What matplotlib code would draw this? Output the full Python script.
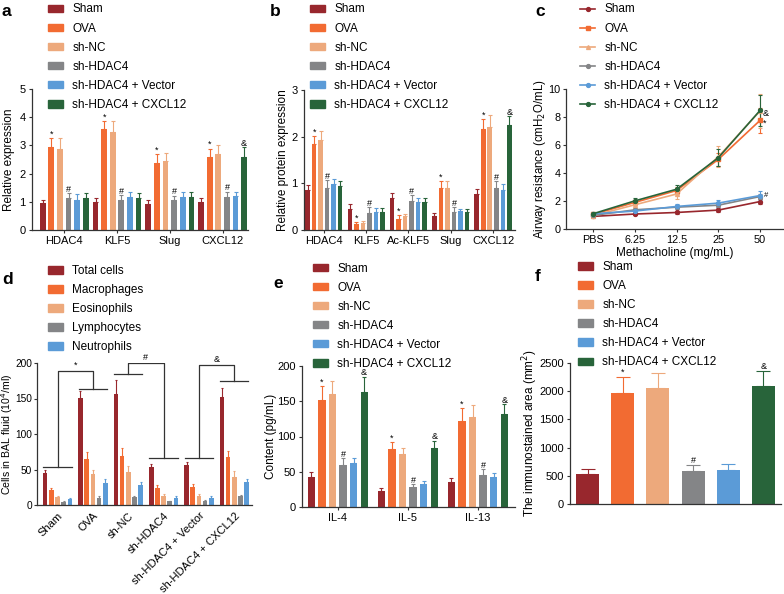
import numpy as np
import matplotlib
matplotlib.use("Agg")
import matplotlib.pyplot as plt
from matplotlib.patches import Patch
from matplotlib.lines import Line2D

plt.rcParams['font.family'] = ['Liberation Sans', 'DejaVu Sans']
plt.rcParams['axes.linewidth'] = 0.9
plt.rcParams['axes.edgecolor'] = '#333333'
plt.rcParams['xtick.color'] = '#333333'
plt.rcParams['ytick.color'] = '#333333'
plt.rcParams['xtick.labelcolor'] = 'black'
plt.rcParams['ytick.labelcolor'] = 'black'

W, H = 784, 594

# ---- data ----
groups = ["Sham", "OVA", "sh-NC", "sh-HDAC4", "sh-HDAC4 + Vector", "sh-HDAC4 + CXCL12"]
colors = ["#98272d", "#f26b32", "#eda97c", "#848587", "#5b9bd7", "#28643a"]

# panel a: rows = groups, cols = genes
a_genes = ["HDAC4", "KLF5", "Slug", "CXCL12"]
a_mean = [[0.94, 0.99, 0.93, 0.98],
          [2.94, 3.59, 2.39, 2.58],
          [2.89, 3.49, 2.46, 2.69],
          [1.12, 1.08, 1.06, 1.18],
          [1.08, 1.17, 1.17, 1.19],
          [1.12, 1.13, 1.16, 2.59]]
a_err = [[0.14, 0.13, 0.13, 0.14],
         [0.31, 0.27, 0.30, 0.31],
         [0.36, 0.38, 0.27, 0.32],
         [0.18, 0.16, 0.16, 0.18],
         [0.19, 0.18, 0.18, 0.16],
         [0.18, 0.17, 0.19, 0.34]]
a_marks = [[], ["*", "*", "*", "*"], [], ["#", "#", "#", "#"], [], ["", "", "", "&"]]

# panel b
b_proteins = ["HDAC4", "KLF5", "Ac-KLF5", "Slug", "CXCL12"]
b_mean = [[0.86, 0.46, 0.69, 0.31, 0.77],
          [1.84, 0.13, 0.24, 0.91, 2.16],
          [1.92, 0.15, 0.29, 0.91, 2.21],
          [0.91, 0.36, 0.63, 0.39, 0.89],
          [0.98, 0.39, 0.59, 0.41, 0.86],
          [0.94, 0.39, 0.60, 0.38, 2.25]]
b_err = [[0.10, 0.10, 0.10, 0.05, 0.10],
         [0.18, 0.04, 0.08, 0.13, 0.21],
         [0.20, 0.04, 0.05, 0.13, 0.26],
         [0.16, 0.13, 0.11, 0.10, 0.15],
         [0.11, 0.09, 0.10, 0.05, 0.12],
         [0.12, 0.09, 0.09, 0.06, 0.19]]
b_marks = [[], ["*"] * 5, [], ["#"] * 5, [], ["", "", "", "", "&"]]

# panel c
c_doses = ["PBS", "6.25", "12.5", "25", "50"]
c_mean = [[0.90, 1.07, 1.18, 1.35, 1.96],
          [1.04, 1.90, 2.75, 4.97, 7.76],
          [0.95, 1.73, 2.50, 5.16, 8.43],
          [0.97, 1.37, 1.56, 1.70, 2.32],
          [1.09, 1.28, 1.61, 1.85, 2.39],
          [1.09, 2.01, 2.84, 5.09, 8.47]]
c_err = [[0.10, 0.10, 0.12, 0.15, 0.20],
         [0.10, 0.20, 0.25, 0.45, 0.90],
         [0.12, 0.25, 0.35, 0.75, 1.20],
         [0.10, 0.12, 0.15, 0.15, 0.20],
         [0.10, 0.12, 0.15, 0.25, 0.30],
         [0.12, 0.20, 0.30, 0.60, 1.10]]
c_markers = ["o", "s", "^", "o", "o", "o"]

# panel d: rows = cell types, cols = groups
d_cells = ["Total cells", "Macrophages", "Eosinophils", "Lymphocytes", "Neutrophils"]
d_mean = [[45, 151, 156, 53, 57, 152],
          [21, 65, 69, 24, 26, 67],
          [11, 43, 46, 13, 13, 40],
          [4, 10, 11, 5, 6, 12],
          [8, 31, 28, 10, 10, 32]]
d_err = [[4, 10, 20, 5, 3, 13],
         [3, 10, 11, 4, 3, 9],
         [2, 7, 9, 2, 2, 8],
         [1, 2, 2, 1, 1, 2],
         [2, 5, 4, 2, 2, 5]]
# significance brackets: (left group, right group, left level, right level, top level, mark)
d_brackets = [(0, 1, 53, 163, 189, "*"),
              (2, 3, 185, 66, 200, "#"),
              (4, 5, 66, 175, 197, "&")]

# panel e
e_cytokines = ["IL-4", "IL-5", "IL-13"]
e_mean = [[42, 23, 36],
          [152, 82, 122],
          [160, 75, 128],
          [60, 29, 46],
          [62, 33, 42],
          [163, 84, 132]]
e_err = [[7, 4, 5],
         [20, 10, 19],
         [19, 9, 17],
         [9, 3, 8],
         [8, 4, 6],
         [22, 10, 14]]
e_marks = [[], ["*"] * 3, [], ["#"] * 3, [], ["&"] * 3]

# panel f
f_mean = [527, 1973, 2050, 586, 604, 2097]
f_err = [90, 278, 272, 101, 101, 267]
f_marks = ["", "*", "", "#", "", "&"]

LBL = 8.5
TCK = 8
LEG = 8.5

fig = plt.figure(figsize=(W / 100, H / 100), dpi=100)


def add_ax(l, r, t, b, tck=TCK):
    ax = fig.add_axes([l / W, 1 - b / H, (r - l) / W, (b - t) / H])
    for s in ("top", "right"):
        ax.spines[s].set_visible(False)
    ax.tick_params(labelsize=tck, length=2.5, width=0.8, pad=2)
    return ax


def ylab(ax, text, xpix, left, right, size=LBL):
    ax.set_ylabel(text, fontsize=size)
    ax.yaxis.set_label_coords((xpix - left) / (right - left), 0.5)


def legend(handles, labels, x, y, handlelength=1.3):
    fig.legend(handles, labels, loc="upper left",
               bbox_to_anchor=(x / W, 1 - y / H), bbox_transform=fig.transFigure,
               frameon=False, fontsize=LEG, borderpad=0, borderaxespad=0,
               labelspacing=0.6, handlelength=handlelength, handleheight=0.6,
               handletextpad=0.75)


def up_err(ax, x, y, e, c, cap=1.4):
    ax.errorbar(x, y, yerr=[np.zeros(len(e)), e], fmt="none", ecolor=c,
                elinewidth=0.8, capsize=cap, capthick=0.8)


def grouped(ax, mean, err, marks, step, width, cap=1.4):
    n = len(mean)
    cats = np.arange(len(mean[0]))
    for k in range(n):
        x = cats + (k - (n - 1) / 2) * step
        ax.bar(x, mean[k], width, color=colors[k], zorder=2)
        up_err(ax, x, mean[k], err[k], colors[k], cap)
        for i, m in enumerate(marks[k]):
            if m:
                ax.annotate(m, (x[i], mean[k][i] + err[k][i]), xytext=(0, -0.5),
                            textcoords="offset points", ha="center", va="bottom",
                            fontsize=6.5)


def letter(s, x, y):
    fig.text(x / W, 1 - y / H, s, fontsize=12.5, fontweight="bold", va="center", ha="left")


# ---- panel a ----
ax = add_ax(32, 248, 89, 230)
grouped(ax, a_mean, a_err, a_marks, 0.163, 0.108)
ax.set_xticks(range(len(a_genes)), a_genes)
ax.set_xlim(-0.61, 3.48)
ax.set_ylim(0, 5)
ax.set_yticks(range(6))
ylab(ax, "Relative expression", 15, 32, 248)
legend([Patch(color=c) for c in colors], groups, 48, 3.5)
letter("a", 2, 12)

# ---- panel b ----
ax = add_ax(304, 515, 90, 230)
grouped(ax, b_mean, b_err, b_marks, 0.154, 0.107)
ax.set_xticks(range(len(b_proteins)), b_proteins)
ax.set_xlim(-0.47, 4.52)
ax.set_ylim(0, 3)
ax.set_yticks(range(4))
ylab(ax, "Relative protein expression", 289, 304, 515)
legend([Patch(color=c) for c in colors], groups, 310, 3.5)
letter("b", 270, 12)

# ---- panel c ----
ax = add_ax(566, 783, 89, 229, tck=7.8)
ax.tick_params(axis="y", pad=1.5)
xs = np.arange(len(c_doses))
for k in range(len(groups)):
    ax.errorbar(xs, c_mean[k], yerr=c_err[k], color=colors[k], marker=c_markers[k],
                markersize=2.8, lw=1.2, elinewidth=0.8, capsize=1.4, capthick=0.8)
ax.annotate("&", (xs[-1], c_mean[5][-1]), xytext=(2, -2), textcoords="offset points",
            fontsize=6.5, va="center")
ax.annotate("*", (xs[-1], c_mean[1][-1]), xytext=(2, -2), textcoords="offset points",
            fontsize=6.5, va="center")
ax.annotate("#", (xs[-1], c_mean[3][-1]), xytext=(3, 1), textcoords="offset points",
            fontsize=5.5, va="center")
ax.set_xticks(xs, c_doses)
ax.set_xlim(-0.65, 4.55)
ax.set_ylim(0, 10)
ax.set_yticks(range(0, 11, 2))
ax.set_xlabel("Methacholine (mg/mL)", fontsize=LBL, labelpad=1)
ylab(ax, "Airway resistance (cmH$_2$O/mL)", 547.5, 566, 783, size=8.3)
legend([Line2D([], [], color=c, marker=m, markersize=2.8, lw=1.2)
        for c, m in zip(colors, c_markers)], groups, 580, 3.5)
letter("c", 535, 12)

# ---- panel d ----
ax = add_ax(37, 252, 363, 505, tck=7.3)
ax.tick_params(axis="y", pad=1.0)
nd = len(d_cells)
gx = np.arange(len(groups))
for k in range(nd):
    x = gx + (k - (nd - 1) / 2) * 0.175
    ax.bar(x, d_mean[k], 0.13, color=colors[k], zorder=2)
    up_err(ax, x, d_mean[k], d_err[k], colors[k], 1.0)
for g1, g2, y1, y2, top, m in d_brackets:
    for g, yl in ((g1, y1), (g2, y2)):
        ax.plot([g - 0.4, g + 0.4], [yl, yl], color="#333333", lw=0.9)
    ax.plot([g1, g1, g2, g2], [y1, top, top, y2], color="#333333", lw=0.9)
    ax.text((g1 + g2) / 2, top + 1, m, ha="center", va="bottom", fontsize=6.5)
ax.set_xticks(gx, groups, rotation=45, ha="right", rotation_mode="anchor")
ax.tick_params(axis="x", length=0, pad=4, labelsize=8)
ax.set_xlim(-0.58, 5.5)
ax.set_ylim(0, 200)
ax.set_yticks(range(0, 201, 50))
ylab(ax, "Cells in BAL fluid (10$^4$/ml)", 15.3, 37, 252, size=7.6)
legend([Patch(color=c) for c in colors[:nd]], d_cells, 48, 265)
letter("d", 2, 279)

# ---- panel e ----
ax = add_ax(302, 515, 366, 507)
grouped(ax, e_mean, e_err, e_marks, 0.151, 0.105)
ax.set_xticks(range(len(e_cytokines)), e_cytokines)
ax.set_xlim(-0.51, 2.53)
ax.set_ylim(0, 200)
ax.set_yticks(range(0, 201, 50))
ylab(ax, "Content (pg/mL)", 277, 302, 515)
legend([Patch(color=c) for c in colors], groups, 313, 262.5)
letter("e", 273, 283)

# ---- panel f ----
ax = add_ax(570, 781, 363, 504)
fx = np.arange(len(groups))
ax.bar(fx, f_mean, 0.65, color=colors, zorder=2)
for k in range(len(groups)):
    up_err(ax, [fx[k]], [f_mean[k]], [f_err[k]], colors[k], 5)
    if f_marks[k]:
        ax.annotate(f_marks[k], (fx[k], f_mean[k] + f_err[k]), xytext=(0, 0),
                    textcoords="offset points", ha="center", va="bottom", fontsize=6.5)
ax.set_xticks([])
ax.set_xlim(-0.5, 5.5)
ax.set_ylim(0, 2500)
ax.set_yticks(range(0, 2501, 500))
ylab(ax, "The immunostained area (mm$^2$)", 540, 570, 781)
legend([Patch(color=c) for c in colors], groups, 578, 261)
letter("f", 535, 277)

fig.savefig("out.png", dpi=100)
